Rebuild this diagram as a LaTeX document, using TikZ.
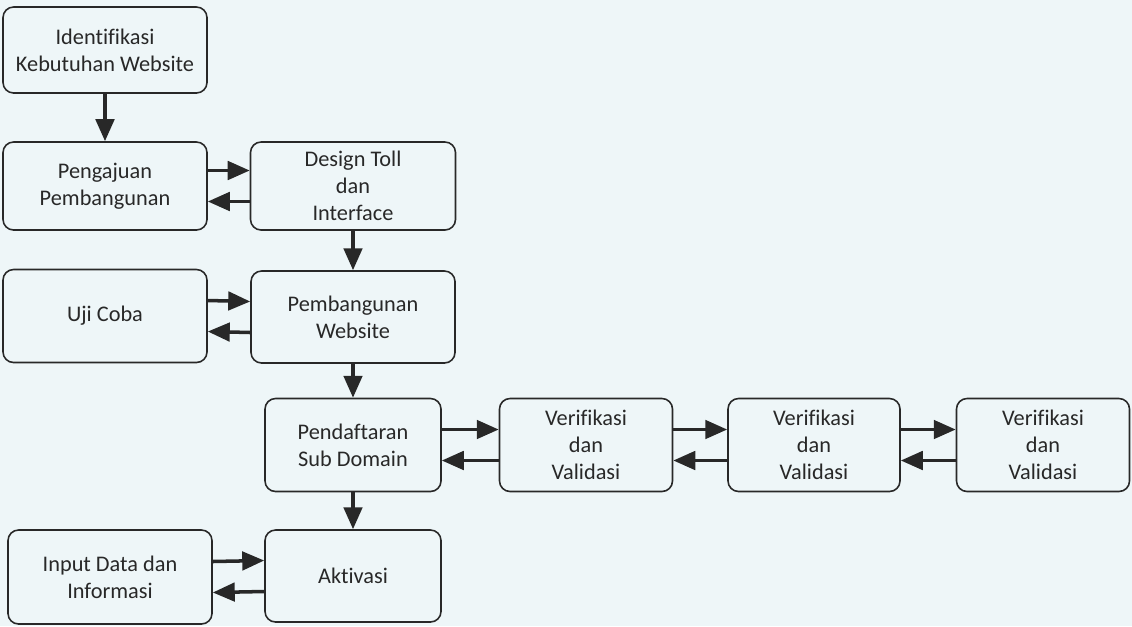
\documentclass[tikz,border=0pt]{standalone}
\usepackage{fontspec}
\setmainfont[Ligatures=NoCommon]{Carlito}
\usepackage{xcolor}
\usepackage{tikz}
\usetikzlibrary{arrows.meta}
\definecolor{bgpaper}{RGB}{238,246,248}
\definecolor{inkgray}{RGB}{40,40,40}

\begin{document}
\begin{tikzpicture}[
  box/.style={draw=inkgray, line width=0.9pt, rounded corners=6pt, align=center,
    text=inkgray, font=\fontsize{12.7}{15.5}\selectfont, inner sep=2pt},
  arr/.style={-{Triangle[length=12.5pt,width=10.5pt]}, line width=2pt, inkgray}
]
% paper
\fill[bgpaper] (0,0) rectangle (22.64,-12.52);

% left column
\node[box, minimum width=4.08cm, minimum height=1.72cm] (ident) at (2.10,-1.00) {Identifikasi\\Kebutuhan Website};
\node[box, minimum width=4.08cm, minimum height=1.76cm] (peng) at (2.10,-3.72) {Pengajuan\\Pembangunan};
\node[box, minimum width=4.08cm, minimum height=1.86cm] (uji) at (2.10,-6.32) {Uji Coba};
\node[box, minimum width=4.08cm, minimum height=1.88cm] (input) at (2.20,-11.54) {Input Data dan\\Informasi};

% middle column
\node[box, minimum width=4.10cm, minimum height=1.76cm] (design) at (7.06,-3.72) {Design Toll\\dan\\Interface};
\node[box, minimum width=4.08cm, minimum height=1.84cm] (pemb) at (7.06,-6.34) {Pembangunan\\Website};
\node[box, minimum width=3.52cm, minimum height=1.86cm] (pend) at (7.06,-8.90) {Pendaftaran\\Sub Domain};
\node[box, minimum width=3.52cm, minimum height=1.84cm] (aktiv) at (7.06,-11.52) {Aktivasi};

% verification row
\node[box, minimum width=3.46cm, minimum height=1.86cm] (ver1) at (11.72,-8.90) {Verifikasi\\dan\\Validasi};
\node[box, minimum width=3.44cm, minimum height=1.86cm] (ver2) at (16.28,-8.90) {Verifikasi\\dan\\Validasi};
\node[box, minimum width=3.46cm, minimum height=1.86cm] (ver3) at (20.86,-8.90) {Verifikasi\\dan\\Validasi};

% downward flow
\draw[arr] (ident.south) -- (peng.north);
\draw[arr] (design.south) -- (pemb.north);
\draw[arr] (pemb.south) -- (pend.north);
\draw[arr] (pend.south) -- (aktiv.north);

% two-way links
\foreach \a/\b in {peng/design, uji/pemb, pend/ver1, ver1/ver2, ver2/ver3, input/aktiv} {
  \draw[arr] ([yshift=0.31cm]\a.east) -- ([yshift=0.31cm]\b.west);
  \draw[arr] ([yshift=-0.31cm]\b.west) -- ([yshift=-0.31cm]\a.east);
}
\end{tikzpicture}
\end{document}
